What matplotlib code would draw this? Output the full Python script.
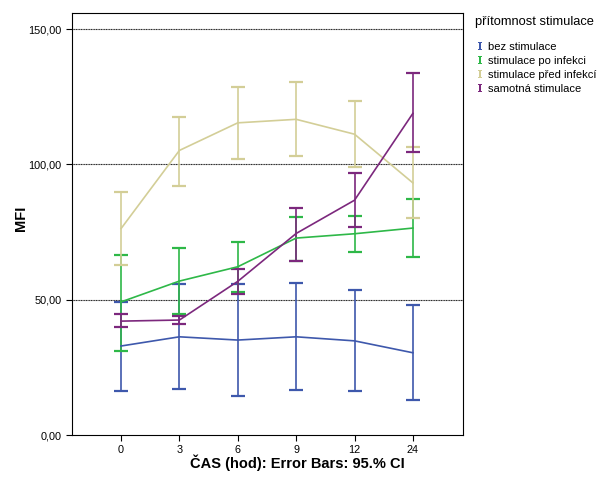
import numpy as np
import matplotlib.pyplot as plt
from matplotlib.lines import Line2D

plt.rcParams['font.family'] = ['Liberation Sans', 'DejaVu Sans']

times = ['0', '3', '6', '9', '12', '24']

bez_mean = [32.9, 36.3, 35.1, 36.3, 34.8, 30.4]
bez_hi = [49.1, 55.7, 55.7, 56.3, 53.7, 47.9]
bez_lo = [16.4, 17.0, 14.4, 16.6, 16.1, 12.9]

po_mean = [49.2, 56.9, 62.2, 72.8, 74.4, 76.5]
po_hi = [66.5, 69.1, 71.3, 80.7, 81.0, 87.3]
po_lo = [31.0, 44.7, 52.8, 64.5, 67.7, 65.8]

pred_mean = [76.3, 105.2, 115.4, 116.7, 111.2, 93.2]
pred_hi = [89.9, 117.7, 128.6, 130.5, 123.5, 106.3]
pred_lo = [62.7, 92.1, 102.1, 103.1, 99.1, 80.3]

sam_mean = [42.1, 42.5, 56.8, 74.5, 86.8, 118.9]
sam_hi = [44.6, 44.1, 61.2, 84.1, 96.8, 134.0]
sam_lo = [39.8, 40.9, 52.1, 64.5, 77.0, 104.7]

series = [
    ('bez stimulace', bez_mean, bez_lo, bez_hi, '#3e58ac'),
    ('stimulace po infekci', po_mean, po_lo, po_hi, '#2eb848'),
    ('stimulace před infekcí', pred_mean, pred_lo, pred_hi, '#d3ce97'),
    ('samotná stimulace', sam_mean, sam_lo, sam_hi, '#7c287d'),
]

fig = plt.figure(figsize=(5.98, 4.82), dpi=100)
ax = fig.add_axes([0.1204, 0.0975, 0.654, 0.8755])

x = np.arange(len(times))
handles = []
for name, m, lo, hi, col in series:
    m = np.array(m)
    err = [m - np.array(lo), np.array(hi) - m]
    ax.errorbar(x, m, yerr=err, color=col, lw=1.2, elinewidth=1.2,
                capsize=5, capthick=1.6)
    handles.append(Line2D([], [], ls='none', marker=r'$\mathtt{I}$',
                          color=col, markersize=6, markeredgewidth=0))

for yv in [50, 100, 150]:
    ax.axhline(yv, color='#222222', lw=0.8, ls=(0, (1, 0.5)), zorder=0)

ax.set_xlim(-0.84, 5.86)
ax.set_ylim(0, 156)
ax.set_xticks(x)
ax.set_xticklabels(times)
ax.set_yticks([0, 50, 100, 150])
ax.set_yticklabels(['0,00', '50,00', '100,00', '150,00'])
ax.tick_params(labelsize=7.8, length=4, direction='out')

fig.text(0.498, 0.039, 'ČAS (hod): Error Bars: 95.% CI', fontsize=10.5,
         fontweight='bold', ha='center', va='center')
fig.text(0.035, 0.548, 'MFI', fontsize=10.5, fontweight='bold',
         ha='center', va='center', rotation=90)

leg = fig.legend(handles, [s[0] for s in series], title='přítomnost stimulace',
                 loc='upper left', bbox_to_anchor=(0.787, 0.975),
                 frameon=False, fontsize=8, title_fontsize=9.3,
                 handlelength=0.8, handletextpad=0.4, labelspacing=0.35,
                 borderaxespad=0)
leg._legend_box.align = 'left'
leg._legend_box.sep = 10

fig.savefig('out.png', dpi=100)
